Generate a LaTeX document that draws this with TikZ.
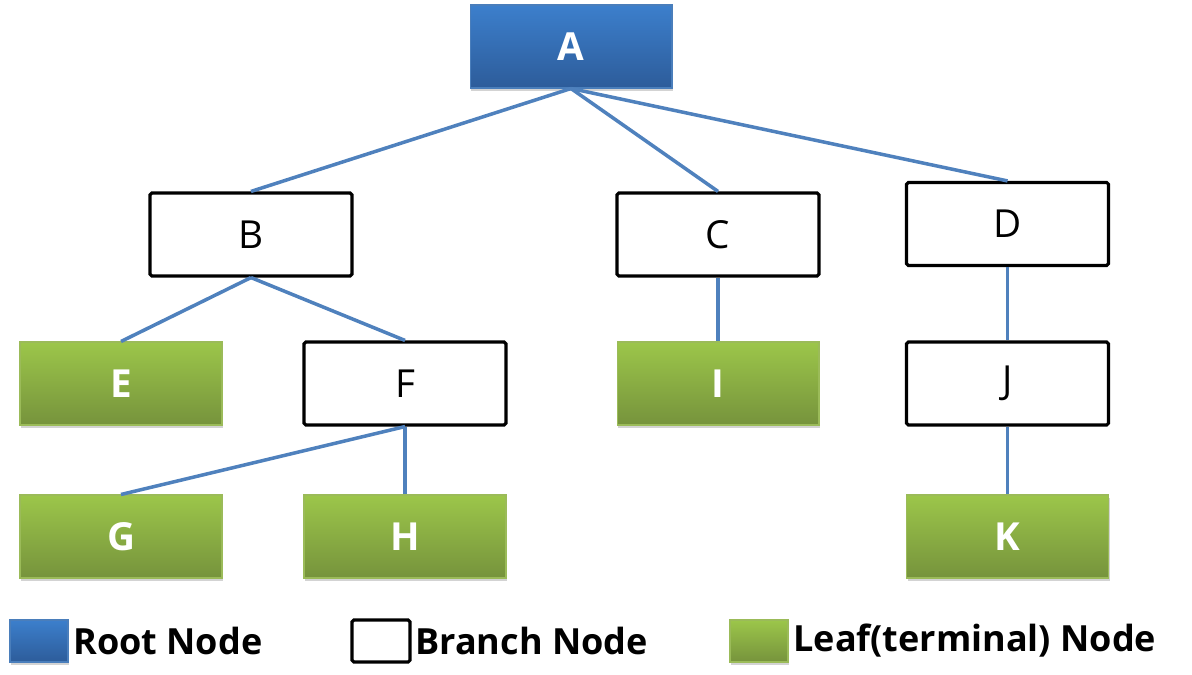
\documentclass[tikz,border=0pt]{standalone}
\usepackage{fontspec}
\setmainfont{Open Sans}
\usetikzlibrary{shadows}
\definecolor{edgeblue}{HTML}{4F81BD}
\definecolor{roottop}{HTML}{3C7FCC}
\definecolor{rootbot}{HTML}{2D5C9A}
\definecolor{rootline}{HTML}{4A7EBB}
\definecolor{leaftop}{HTML}{9CC64A}
\definecolor{leafbot}{HTML}{76933C}
\definecolor{leafline}{HTML}{9BBB59}

\begin{document}
\begin{tikzpicture}[
    x=0.02cm, y=-0.02cm,
    box/.style={minimum width=4.04cm, minimum height=1.66cm, inner sep=0pt,
        font=\fontsize{22}{26}\selectfont},
    root/.style={box, draw=rootline, line width=0.6pt, top color=roottop, bottom color=rootbot,
        text=white, font=\fontsize{22}{26}\selectfont\bfseries,
        drop shadow={shadow xshift=0.6pt, shadow yshift=-1.6pt, opacity=0.35}},
    branch/.style={box, draw=black, line width=1.8pt, rounded corners=1pt, fill=white},
    leaf/.style={box, draw=leafline, line width=0.6pt, top color=leaftop, bottom color=leafbot,
        text=white, font=\fontsize{22}{26}\selectfont\bfseries,
        drop shadow={shadow xshift=0.6pt, shadow yshift=-1.6pt, opacity=0.35}},
    edge/.style={draw=edgeblue, line width=2pt},
    legtxt/.style={anchor=west, inner sep=0pt, font=\fontsize{20.5}{24}\selectfont\bfseries},
]
\useasboundingbox (0,0) rectangle (1192,675);

% tree
\node[root] (A) at (571,46.5) {A};
\foreach \name/\x/\y in {B/251/234.5, C/718/234.5, D/1007.5/224, F/405/383.5, J/1007.5/383.5} {
    \node[branch] (\name) at (\x,\y) {\name};
}
\foreach \name/\x/\y in {E/121/383.5, I/718/383.5, G/121/536.5, H/405/536.5, K/1007.5/536.5} {
    \node[leaf] (\name) at (\x,\y) {\name};
}
\foreach \from/\to in {A/B, A/C, A/D, B/E, B/F, F/G, F/H, C/I, D/J, J/K} {
    \draw[edge] (\from.south) -- (\to.north);
}

% legend
\node[root, minimum width=1.16cm, minimum height=0.84cm] (lgroot) at (39,641) {};
\node[legtxt] (lgroottxt) at (73,641) {Root Node};
\node[branch, minimum width=1.16cm, minimum height=0.84cm] (lgbranch) at (381,641) {};
\node[legtxt] (lgbranchtxt) at (415,641) {Branch Node};
\node[leaf, minimum width=1.16cm, minimum height=0.84cm] (lgleaf) at (759,641) {};
\node[legtxt] (lgleaftxt) at (793,641) {Leaf(terminal) Node};
\end{tikzpicture}
\end{document}
